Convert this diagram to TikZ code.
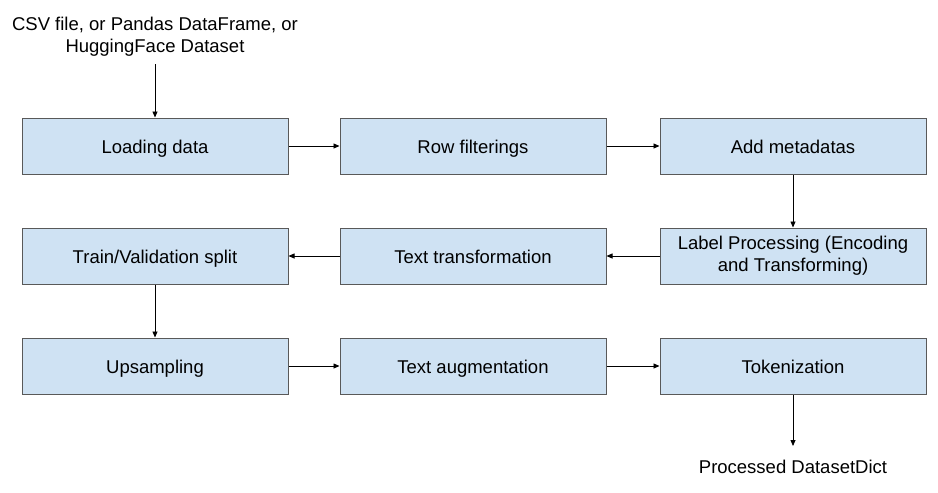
\documentclass[tikz,border=0pt]{standalone}
\usepackage{fontspec}
\setmainfont{Liberation Sans}
\usetikzlibrary{arrows.meta}
\definecolor{boxfill}{HTML}{CFE2F3}
\definecolor{boxline}{HTML}{595959}
\begin{document}
\begin{tikzpicture}[x=1pt,y=-1pt,
  stepbox/.style={draw=boxline, fill=boxfill, line width=1pt, minimum width=266pt, minimum height=56pt, inner sep=0pt, align=center, font=\fontsize{18.5}{22}\selectfont},
  onebox/.style={stepbox, text height=14.6pt, text depth=0pt},
  plain/.style={align=center, inner sep=0pt, font=\fontsize{18.5}{22}\selectfont},
  conn/.style={draw=black, line width=0.8pt, -{Triangle[length=6pt,width=5pt]}}]
\useasboundingbox (0,0) rectangle (938,493);
\node[plain] (src) at (155,37) {CSV file, or Pandas DataFrame, or\\HuggingFace Dataset};
\node[onebox] (load) at (155,146) {Loading data};
\node[onebox] (filt) at (473,146) {Row filterings};
\node[onebox] (meta) at (793,146) {Add metadatas};
\node[stepbox] (label) at (793,256) {Label Processing (Encoding\\and Transforming)};
\node[onebox] (ttrans) at (473,256) {Text transformation};
\node[onebox] (split) at (155,256) {Train/Validation split};
\node[onebox] (up) at (155,366) {Upsampling};
\node[onebox] (aug) at (473,366) {Text augmentation};
\node[onebox] (tok) at (793,366) {Tokenization};
\node[plain, text height=14.6pt, text depth=0pt] (out) at (793,466) {Processed DatasetDict};
\coordinate (srcend) at (155,64);
\coordinate (outtop) at (793,446);
\draw[conn] (srcend) -- (load.north);
\draw[conn] (load) -- (filt);
\draw[conn] (filt) -- (meta);
\draw[conn] (meta) -- (label);
\draw[conn] (label) -- (ttrans);
\draw[conn] (ttrans) -- (split);
\draw[conn] (split) -- (up);
\draw[conn] (up) -- (aug);
\draw[conn] (aug) -- (tok);
\draw[conn] (tok.south) -- (outtop);
\end{tikzpicture}
\end{document}
